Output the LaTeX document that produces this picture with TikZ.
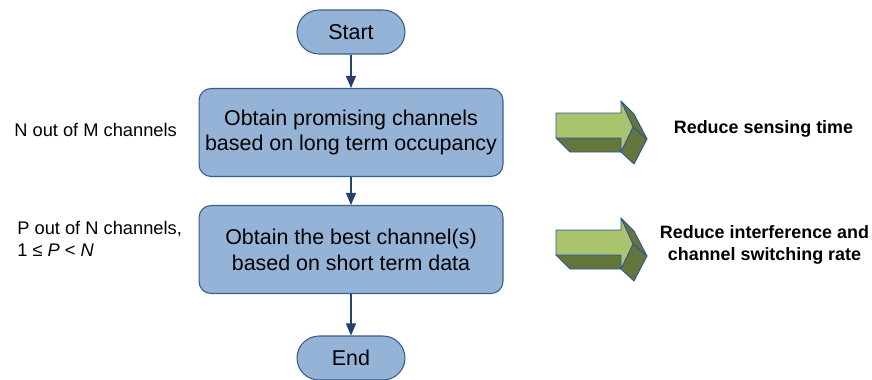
\documentclass[tikz,border=0pt]{standalone}
\usepackage{fontspec}
\setmainfont{Liberation Sans}
\usetikzlibrary{arrows.meta,positioning}
\definecolor{boxfill}{RGB}{149,179,215}
\definecolor{boxline}{RGB}{56,93,138}
\definecolor{flowline}{RGB}{36,64,110}
\definecolor{arrowfront}{RGB}{169,196,108}
\definecolor{arrowside}{RGB}{100,118,60}
\definecolor{arrowedge}{RGB}{47,85,151}

\begin{document}
\begin{tikzpicture}[x=0.02cm,y=-0.02cm,
	terminal/.style={draw=boxline,fill=boxfill,line width=0.6pt,minimum width=2.16cm,minimum height=0.88cm,rounded corners=0.44cm,inner sep=0pt,font=\fontsize{12.2}{14.7}\selectfont},
	process/.style={draw=boxline,fill=boxfill,line width=0.6pt,minimum width=6.08cm,minimum height=1.76cm,rounded corners=0.24cm,align=center,inner sep=0pt,font=\fontsize{12.2}{14.7}\selectfont},
	note/.style={anchor=west,align=left,inner sep=0pt,font=\fontsize{10.4}{12.5}\selectfont},
	gain/.style={align=center,inner sep=0pt,font=\fontsize{10.2}{12.5}\selectfont\bfseries},
	flow/.style={draw=flowline,line width=0.7pt,-{Triangle[width=0.2cm,length=0.24cm]}},
	side/.style={fill=arrowside,draw=arrowedge,line width=0.5pt,line join=round},
	face/.style={fill=arrowfront,draw=arrowedge,line width=0.5pt,line join=round}]
	\useasboundingbox (0,0) rectangle (872,379);
	
	\node[terminal] (start) at (351,32) {Start};
	\node[process] (longterm) at (351,132.5) {Obtain promising channels\\based on long term occupancy};
	\node[process] (shortterm) at (351,249.5) {Obtain the best channel(s)\\based on short term data};
	\node[terminal] (stop) at (351,358) {End};
	
	\draw[flow] (start) -- (longterm);
	\draw[flow] (longterm) -- (shortterm);
	\draw[flow] (shortterm) -- (stop);
	
	\node[note] (nofm) at (14,130) {N out of M channels};
	\node[note] (pofn) at (17,239) {P out of N channels,\\1 ≤ \textit{P} < \textit{N}};
	
	\foreach \dy in {0,117}{
		\begin{scope}[shift={(0,\dy)}]
			\filldraw[side] (556,138) -- (570,152) -- (621,152) -- (621,138) -- cycle;
			\filldraw[side] (633,127) -- (647,139) -- (634,164) -- (621,152) -- cycle;
			\filldraw[side] (621,101) -- (634,114) -- (647,139) -- (633,127) -- cycle;
			\filldraw[face] (556,113) -- (621,113) -- (621,101) -- (633,127) -- (621,152) -- (621,138) -- (556,138) -- cycle;
		\end{scope}
	}
	
	\node[gain] (sensing) at (763.5,129) {Reduce sensing time};
	\node[gain] (switching) at (764.5,245) {Reduce interference and\\channel switching rate};
\end{tikzpicture}
\end{document}
